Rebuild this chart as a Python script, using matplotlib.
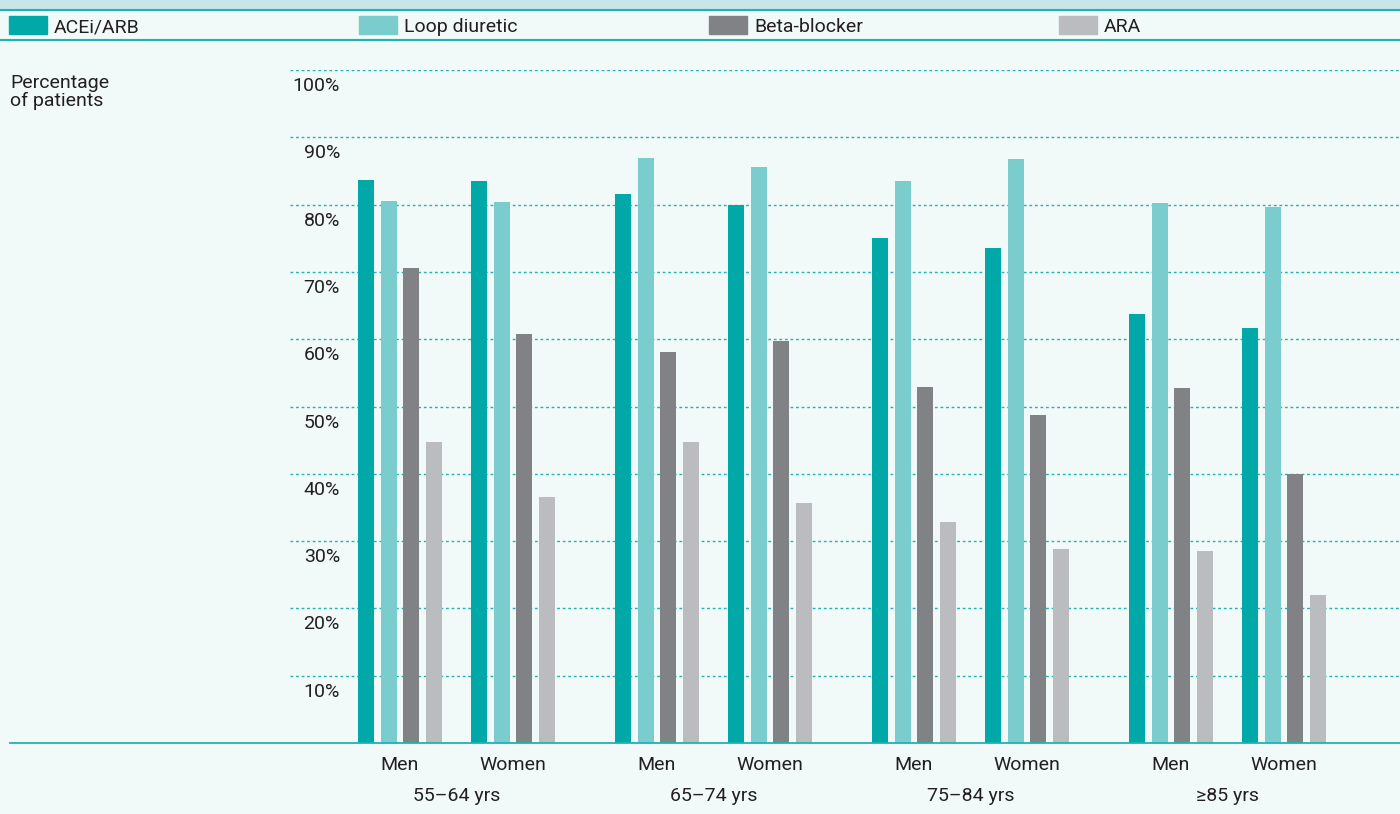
import matplotlib.pyplot as plt
import numpy as np

plt.rcParams['font.family'] = ['Roboto', 'DejaVu Sans']

# data
age_groups = ['55\u201364 yrs', '65\u201374 yrs', '75\u201384 yrs', '\u226585 yrs']
sexes = ['Men', 'Women']
drugs = ['ACEi/ARB', 'Loop diuretic', 'Beta-blocker', 'ARA']
# values per age group: [men, women]
acei = [[83.7, 83.5], [81.6, 80.0], [75.0, 73.6], [63.7, 61.7]]
loop = [[80.5, 80.4], [86.9, 85.6], [83.5, 86.8], [80.2, 79.6]]
beta = [[70.6, 60.8], [58.1, 59.7], [52.9, 48.7], [52.7, 40.0]]
ara = [[44.7, 36.6], [44.7, 35.7], [32.8, 28.8], [28.5, 22.0]]
y_ticks = [10, 20, 30, 40, 50, 60, 70, 80, 90, 100]

colors = ['#00a8a8', '#7bcccc', '#808285', '#bbbcbf']
bg = '#f1faf9'
teal = '#1fb3b3'
txt = '#231f20'
fs = 14

W, H = 1400, 814
fig = plt.figure(figsize=(14, 8.14), dpi=100, facecolor=bg)

def fx(px):
    return px / W

def fy(py):
    return 1 - py / H

base_px, top_px = 743, 70
unit = (base_px - top_px) / 100.0
ax = fig.add_axes([0, fy(base_px), 1, fy(top_px) - fy(base_px)])
ax.set_facecolor(bg)
ax.set_xlim(0, W)
ax.set_ylim(0, 100)
ax.axis('off')

# gridlines and tick labels
for t in y_ticks:
    ax.plot([290, W], [t, t], color=teal, lw=1, ls=(0, (2, 2)), zorder=1)
    ax.text(340, t - 21 / unit, f'{t}%', ha='right', va='baseline',
            fontsize=fs, color=txt)

# bars
series = [acei, loop, beta, ara]
bw = 16
for g in range(len(age_groups)):
    for s in range(len(sexes)):
        x0 = 358 + g * 257 + s * 113
        for d, vals in enumerate(series):
            ax.bar(x0 + d * 22.7, vals[g][s], width=bw, align='edge',
                   color=colors[d], zorder=2)
        ax.text(x0 + 42, -27 / unit, sexes[s], ha='center', va='baseline',
                fontsize=fs, color=txt, clip_on=False)
    ax.text(358 + g * 257 + 99, -58 / unit, age_groups[g], ha='center',
            va='baseline', fontsize=fs, color=txt, clip_on=False)

# baseline
ax.plot([10, W], [0, 0], color=teal, lw=1.3, zorder=3, clip_on=False)

# header band and legend
fig.patches.append(plt.Rectangle((0, fy(10)), 1, 10 / H, transform=fig.transFigure,
                                 color='#c8e6e8', zorder=0))
for yl in (10, 40):
    fig.add_artist(plt.Line2D([0, 1], [fy(yl), fy(yl)], color=teal, lw=1.5))
for i, name in enumerate(drugs):
    lx = 9 + i * 350
    fig.patches.append(plt.Rectangle((fx(lx), fy(34)), fx(38), 18 / H,
                                     transform=fig.transFigure, color=colors[i]))
    fig.text(fx(lx + 45), fy(32), name, ha='left', va='baseline',
             fontsize=fs, color=txt)

fig.text(fx(10), fy(88), 'Percentage', ha='left', va='baseline',
         fontsize=fs, color=txt)
fig.text(fx(10), fy(106), 'of patients', ha='left', va='baseline',
         fontsize=fs, color=txt)

fig.savefig('out.png', dpi=100, facecolor=bg)
